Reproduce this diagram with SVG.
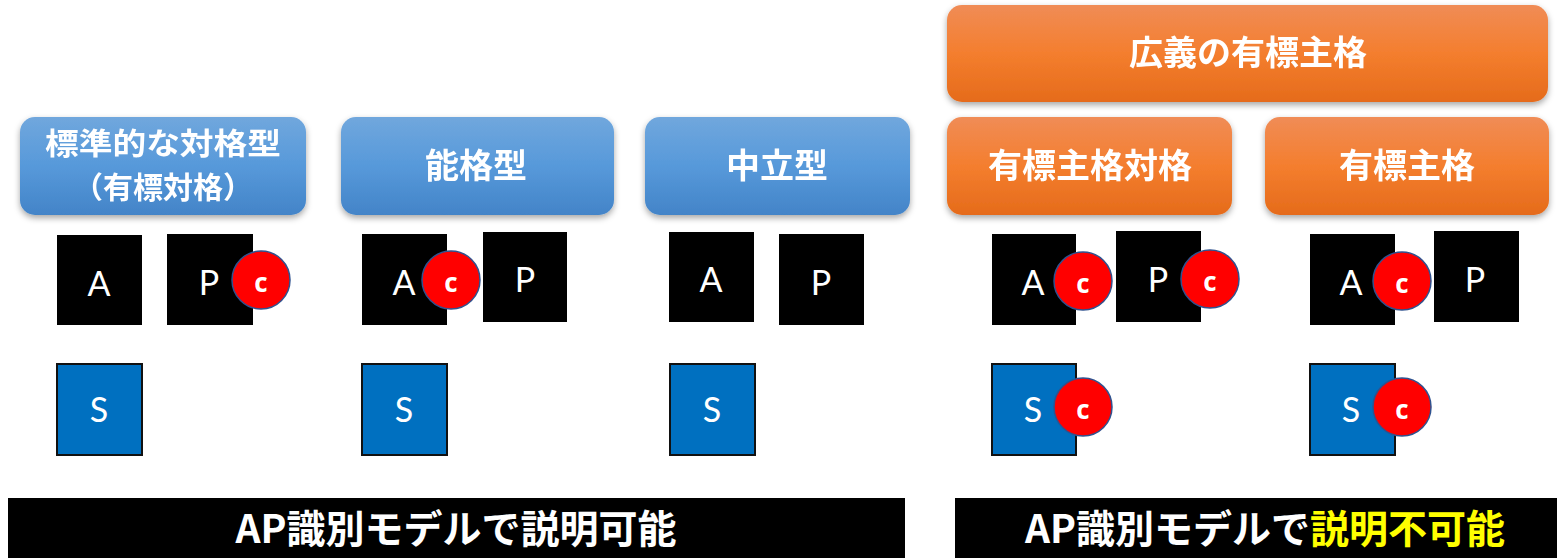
<svg xmlns="http://www.w3.org/2000/svg" width="1557" height="558" viewBox="0 0 1557 558">
<style>
.hdr{font-family:"Noto Sans CJK JP","Noto Sans",sans-serif;font-weight:bold;font-size:34px;fill:#fff;text-anchor:middle}
.hdr2{font-family:"Noto Sans CJK JP","Noto Sans",sans-serif;font-weight:bold;font-size:30px;fill:#fff;text-anchor:middle}
.blk{fill:#000}
.sq{fill:#0070C0;stroke:#111;stroke-width:2}
.lt{font-family:Lato,"Open Sans",sans-serif;font-size:34px;fill:#fff;text-anchor:middle}
.cc{fill:#FF0000;stroke:#2F528F;stroke-width:1.5}
.ct{font-family:"Open Sans","Noto Sans",sans-serif;font-weight:bold;font-size:26px;fill:#fff;text-anchor:middle}
.bar{fill:#000}
.bt{font-family:"Noto Sans CJK JP","Noto Sans",sans-serif;font-weight:bold;font-size:39px;fill:#fff;text-anchor:middle}
</style>
<defs>
<linearGradient id="gb" x1="0" y1="0" x2="0" y2="1">
<stop offset="0" stop-color="#70A7DD"/><stop offset="0.5" stop-color="#5799DA"/><stop offset="1" stop-color="#4384C8"/>
</linearGradient>
<linearGradient id="go" x1="0" y1="0" x2="0" y2="1">
<stop offset="0" stop-color="#F08C56"/><stop offset="0.5" stop-color="#F47E2E"/><stop offset="1" stop-color="#E56B1B"/>
</linearGradient>
<filter id="sh" x="-10%" y="-20%" width="120%" height="150%">
<feDropShadow dx="0" dy="3" stdDeviation="3" flood-color="#000" flood-opacity="0.35"/>
</filter>
</defs>
<rect width="1557" height="558" fill="#fff"/>

<g id="h-standard" filter="url(#sh)">
<rect x="20" y="117" width="286" height="98" rx="15" fill="url(#gb)"/>
<text class="hdr2" x="163" y="154" textLength="236" lengthAdjust="spacingAndGlyphs">標準的な対格型</text>
<text class="hdr2" x="163" y="198">（有標対格）</text>
</g>
<g id="h-ergative" filter="url(#sh)">
<rect x="341" y="117" width="273" height="98" rx="15" fill="url(#gb)"/>
<text class="hdr" x="476" y="178">能格型</text>
</g>
<g id="h-neutral" filter="url(#sh)">
<rect x="645" y="117" width="265" height="98" rx="15" fill="url(#gb)"/>
<text class="hdr" x="777" y="178">中立型</text>
</g>
<g id="h-broad" filter="url(#sh)">
<rect x="947" y="5" width="601" height="97" rx="15" fill="url(#go)"/>
<text class="hdr" x="1248" y="65">広義の有標主格</text>
</g>
<g id="h-mna" filter="url(#sh)">
<rect x="947" y="117" width="285" height="98" rx="15" fill="url(#go)"/>
<text class="hdr" x="1090" y="178">有標主格対格</text>
</g>
<g id="h-mn" filter="url(#sh)">
<rect x="1265" y="117" width="284" height="98" rx="15" fill="url(#go)"/>
<text class="hdr" x="1407" y="178">有標主格</text>
</g>

<g id="col1">
<rect class="blk" x="57" y="235" width="85" height="90"/><text class="lt" x="99" y="296">A</text>
<rect class="blk" x="167" y="234" width="86" height="91"/><text class="lt" x="209" y="295">P</text>
<circle class="cc" cx="261" cy="280" r="29"/><text class="ct" x="261" y="292">c</text>
<rect class="sq" x="57" y="364" width="85" height="91"/><text class="lt" x="99" y="422">S</text>
</g>
<g id="col2">
<rect class="blk" x="362" y="234" width="85" height="91"/><text class="lt" x="404" y="295">A</text>
<rect class="blk" x="483" y="232" width="84" height="90"/><text class="lt" x="525" y="292">P</text>
<circle class="cc" cx="451" cy="280" r="29"/><text class="ct" x="451" y="292">c</text>
<rect class="sq" x="362" y="364" width="85" height="91"/><text class="lt" x="404" y="422">S</text>
</g>
<g id="col3">
<rect class="blk" x="669" y="232" width="85" height="90"/><text class="lt" x="711" y="292">A</text>
<rect class="blk" x="779" y="234" width="85" height="91"/><text class="lt" x="821" y="295">P</text>
<rect class="sq" x="670" y="364" width="85" height="91"/><text class="lt" x="712" y="422">S</text>
</g>
<g id="col4">
<rect class="blk" x="992" y="234" width="84" height="91"/><text class="lt" x="1033" y="295">A</text>
<rect class="blk" x="1116" y="231" width="85" height="91"/><text class="lt" x="1158" y="292">P</text>
<circle class="cc" cx="1083" cy="281" r="29"/><text class="ct" x="1083" y="293">c</text>
<circle class="cc" cx="1210" cy="279" r="29"/><text class="ct" x="1210" y="291">c</text>
<rect class="sq" x="992" y="364" width="84" height="91"/><text class="lt" x="1033" y="422">S</text>
<circle class="cc" cx="1083" cy="407" r="29"/><text class="ct" x="1083" y="419">c</text>
</g>
<g id="col5">
<rect class="blk" x="1310" y="234" width="85" height="91"/><text class="lt" x="1351" y="295">A</text>
<rect class="blk" x="1434" y="231" width="85" height="91"/><text class="lt" x="1475" y="292">P</text>
<circle class="cc" cx="1402" cy="281" r="29"/><text class="ct" x="1402" y="293">c</text>
<rect class="sq" x="1310" y="364" width="85" height="91"/><text class="lt" x="1351" y="422">S</text>
<circle class="cc" cx="1402" cy="407" r="29"/><text class="ct" x="1402" y="419">c</text>
</g>

<g id="bar-left">
<rect class="bar" x="8" y="498" width="897" height="60"/>
<text class="bt" x="456" y="543">AP識別モデルで説明可能</text>
</g>
<g id="bar-right">
<rect class="bar" x="955" y="498" width="602" height="60"/>
<text class="bt" x="1265" y="543">AP識別モデルで<tspan fill="#FFFF00">説明不可能</tspan></text>
</g>
<g id="connectors"/>
</svg>
